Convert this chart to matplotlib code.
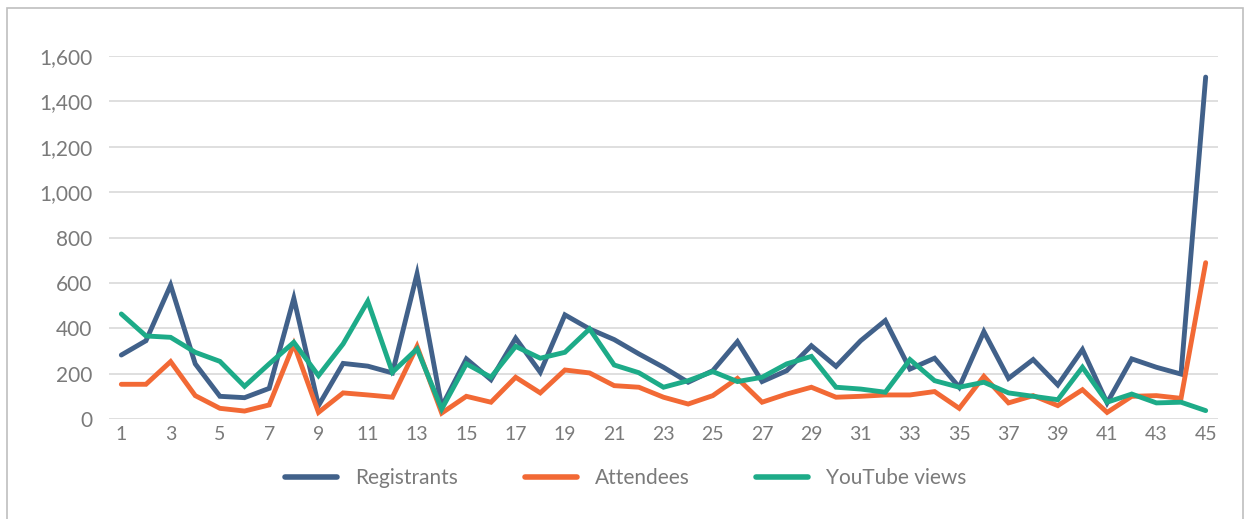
import matplotlib
matplotlib.use("Agg")
import matplotlib.pyplot as plt
from matplotlib.patches import Rectangle
from matplotlib.ticker import FuncFormatter, MultipleLocator

sessions = list(range(1, 46))
registrants = [282, 345, 590, 243, 100, 94, 135, 532, 59, 245, 233, 203, 640, 55, 265,
               173, 356, 206, 459, 397, 350, 287, 228, 162, 213, 341, 165, 213, 323, 232,
               345, 434, 220, 268, 140, 385, 179, 262, 150, 306, 71, 265, 228, 198, 1507]
attendees = [153, 153, 253, 103, 47, 35, 62, 330, 29, 115, 106, 96, 320, 26, 100,
             74, 184, 115, 216, 203, 147, 140, 96, 66, 103, 179, 74, 110, 140, 96,
             100, 106, 106, 121, 47, 188, 71, 103, 59, 129, 29, 100, 103, 91, 689]
youtube = [463, 366, 360, 294, 254, 144, 243, 338, 191, 331, 519, 206, 309, 44, 243,
           184, 320, 268, 294, 397, 238, 204, 140, 169, 209, 165, 184, 243, 276, 140,
           132, 118, 262, 169, 140, 162, 115, 100, 85, 228, 74, 110, 71, 74, 37]
series_names = ["Registrants", "Attendees", "YouTube views"]
colors = ["#41618A", "#F26935", "#1DAB88"]
text_color = "#7A7A7A"

plt.rcParams['font.family'] = ['Lato', 'DejaVu Sans']
fig = plt.figure(figsize=(12.5, 5.19), dpi=100)
fig.patches.append(Rectangle((7/1250, -0.01), (1243-7)/1250, 1 - 8/519 + 0.01,
                             transform=fig.transFigure, fill=False,
                             edgecolor="#BFBFBF", linewidth=1.2))
ax = fig.add_axes([109/1250, 1 - 419/519, (1218-109)/1250, (419-56)/519])

for vals, name, c in zip([registrants, attendees, youtube], series_names, colors):
    ax.plot(sessions, vals, color=c, lw=3.5, label=name, solid_joinstyle='miter',
            solid_capstyle='round')

ax.set_xlim(0.5, 45.5)
ax.set_ylim(0, 1600)
ax.yaxis.set_major_locator(MultipleLocator(200))
ax.yaxis.set_major_formatter(FuncFormatter(lambda v, p: f"{int(v):,}"))
ax.set_xticks(range(1, 46, 2))
ax.grid(axis='y', color="#D9D9D9", lw=1.2)
ax.set_axisbelow(True)
for s in ["top", "right", "left", "bottom"]:
    ax.spines[s].set_visible(False)
ax.tick_params(axis='both', length=0, colors=text_color)
ax.tick_params(axis='y', pad=12, labelsize=15)
ax.tick_params(axis='x', pad=5, labelsize=14)

leg = fig.legend(loc='center', bbox_to_anchor=(626/1250, 1 - 478/519), ncol=3,
                 frameon=False, fontsize=15, handlelength=2.5, columnspacing=3.2,
                 handletextpad=0.86, labelcolor=text_color)
for line in leg.get_lines():
    line.set_linewidth(4)
    line.set_solid_capstyle('round')

fig.savefig("out.png", dpi=100)
